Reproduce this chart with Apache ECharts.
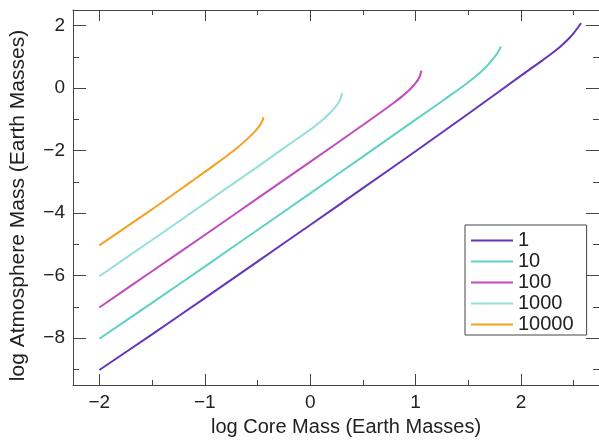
<!DOCTYPE html>
<html>
<head>
<meta charset="utf-8">
<script src="https://cdn.jsdelivr.net/npm/echarts@6/dist/echarts.min.js"></script>
<style>
  html, body { margin: 0; padding: 0; background: #fff; }
  #chart { width: 599px; height: 445px; }
</style>
</head>
<body>
<div id="chart"></div>
<script>
// legend names
const names = ['1', '10', '100', '1000', '10000'];
const colors = ['#6633bb', '#5cd1c4', '#bf4bbf', '#92e0d9', '#f5a223'];

// [log core mass, log atmosphere mass]
const s1 = [[-2, -9.02], [-1.5, -7.88], [-1, -6.72], [-0.5, -5.55], [0, -4.38], [0.5, -3.2], [1, -2.02],
  [1.5, -0.82], [2, 0.4], [2.1, 0.64], [2.2, 0.88], [2.3, 1.13], [2.38, 1.35], [2.45, 1.57], [2.5, 1.76],
  [2.54, 1.94], [2.57, 2.08]];
const s10 = [[-2, -8.02], [-1.5, -6.87], [-1, -5.71], [-0.5, -4.54], [0, -3.37], [0.5, -2.19], [1, -1.01],
  [1.25, -0.42], [1.4, -0.06], [1.5, 0.19], [1.6, 0.46], [1.68, 0.72], [1.74, 0.96], [1.78, 1.14], [1.81, 1.33]];
const s100 = [[-2, -7.02], [-1.5, -5.86], [-1, -4.7], [-0.5, -3.53], [0, -2.36], [0.5, -1.18], [0.7, -0.7],
  [0.8, -0.45], [0.88, -0.24], [0.95, -0.03], [1.0, 0.16], [1.035, 0.34], [1.056, 0.56]];
const s1000 = [[-2, -6.02], [-1.5, -4.86], [-1, -3.69], [-0.5, -2.52], [-0.2, -1.8], [0, -1.33], [0.1, -1.07],
  [0.18, -0.82], [0.24, -0.6], [0.28, -0.4], [0.304, -0.16]];
const s10000 = [[-2, -5.03], [-1.5, -3.88], [-1.132, -3.0], [-0.9, -2.44], [-0.7, -1.93], [-0.6, -1.64],
  [-0.53, -1.41], [-0.48, -1.2], [-0.455, -1.06], [-0.442, -0.93]];
const seriesData = [s1, s10, s100, s1000, s10000];

// ticks
const xMajor = [-2, -1, 0, 1, 2];
const xMinor = [-1.5, -0.5, 0.5, 1.5, 2.5];
const yMajor = [-8, -6, -4, -2, 0, 2];
const yMinor = [-9, -7, -5, -3, -1, 1];

const font = 'Liberation Sans, Arial, Helvetica, sans-serif';
const axisColor = '#444';
const minus = v => (v < 0 ? '\u2212' + (-v) : String(v));

function xAx(pos, ticks, len, withLine, withLabel) {
  return {
    type: 'value', position: pos, min: -2.25, max: 2.74,
    axisLine: { show: withLine, onZero: false, lineStyle: { color: axisColor, width: 1 } },
    axisTick: { show: true, inside: true, length: len, customValues: ticks,
      lineStyle: { color: axisColor, width: 1 } },
    axisLabel: { show: withLabel, customValues: ticks, formatter: minus, margin: 8,
      fontSize: 19, color: '#222', fontFamily: font },
    splitLine: { show: false }
  };
}
function yAx(pos, ticks, len, withLine, withLabel) {
  return {
    type: 'value', position: pos, min: -9.5, max: 2.5,
    axisLine: { show: withLine, onZero: false, lineStyle: { color: axisColor, width: 1 } },
    axisTick: { show: true, inside: true, length: len, customValues: ticks,
      lineStyle: { color: axisColor, width: 1 } },
    axisLabel: { show: withLabel, customValues: ticks, formatter: minus, margin: 8,
      fontSize: 19, color: '#222', fontFamily: font },
    splitLine: { show: false }
  };
}

const xAxes = [
  xAx('bottom', xMajor, 11, true, true),
  xAx('bottom', xMinor, 5, false, false),
  xAx('top', xMajor, 11, true, false),
  xAx('top', xMinor, 5, false, false)
];
Object.assign(xAxes[0], {
  name: 'log Core Mass (Earth Masses)', nameLocation: 'middle', nameGap: 32,
  nameTextStyle: { fontSize: 20, color: '#222', fontFamily: font, padding: [0, 0, 0, 20] }
});
const yAxes = [
  yAx('left', yMajor, 13, true, true),
  yAx('left', yMinor, 6, false, false),
  yAx('right', yMajor, 13, true, false),
  yAx('right', yMinor, 6, false, false)
];
Object.assign(yAxes[0], {
  name: 'log Atmosphere Mass (Earth Masses)', nameLocation: 'middle', nameGap: 44,
  nameTextStyle: { fontSize: 21, color: '#222', fontFamily: font, padding: [0, 16, 0, 0] }
});

const chart = echarts.init(document.getElementById('chart'));
chart.setOption({
  animation: false,
  backgroundColor: '#fff',
  grid: { left: 70, top: 10, width: 535, height: 375 },
  xAxis: xAxes,
  yAxis: yAxes,
  legend: {
    orient: 'vertical', left: 465, top: 225,
    padding: [5, 13, 0, 6], itemGap: 0, itemWidth: 42, itemHeight: 2,
    icon: 'rect', borderColor: axisColor, borderWidth: 1, selectedMode: false,
    data: names,
    textStyle: { fontSize: 20, lineHeight: 21, color: '#222', fontFamily: font }
  },
  series: seriesData.map((d, i) => ({
    name: names[i], type: 'line', data: d,
    xAxisIndex: 0, yAxisIndex: 0,
    showSymbol: false, smooth: 0.25,
    lineStyle: { color: colors[i], width: 2 }, itemStyle: { color: colors[i] }
  }))
});
</script>
</body>
</html>
